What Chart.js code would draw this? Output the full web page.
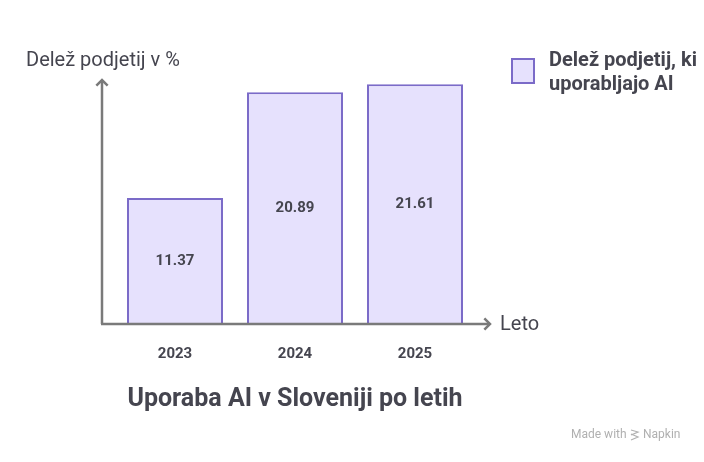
<!DOCTYPE html>
<html>
<head>
<meta charset="utf-8">
<script src="https://cdn.jsdelivr.net/npm/chart.js@4/dist/chart.umd.min.js"></script>
<style>
  html, body { margin: 0; padding: 0; background: #fff; }
  #wrap { width: 704px; height: 462px; position: relative; }
</style>
</head>
<body>
<div id="wrap"><canvas id="chart"></canvas></div>
<script>
const years = ['2023', '2024', '2025'];
const shares = [11.37, 20.89, 21.61];
const seriesLabel = 'Delež podjetij, ki uporabljajo AI';
const yTitle = 'Delež podjetij v %';
const xTitle = 'Leto';
const chartTitle = 'Uporaba AI v Sloveniji po letih';

const FONT = 'Roboto, "Noto Sans", sans-serif';
const TEXT = '#45454f';
const AXIS = '#7a7a7a';

function arrowLine(ctx, x1, y1, x2, y2) {
  ctx.beginPath();
  ctx.moveTo(x1, y1);
  ctx.lineTo(x2, y2);
  ctx.stroke();
  const a = Math.atan2(y2 - y1, x2 - x1);
  const s = 8;
  ctx.beginPath();
  ctx.moveTo(x2 - s * Math.cos(a - Math.PI / 4), y2 - s * Math.sin(a - Math.PI / 4));
  ctx.lineTo(x2, y2);
  ctx.lineTo(x2 - s * Math.cos(a + Math.PI / 4), y2 - s * Math.sin(a + Math.PI / 4));
  ctx.stroke();
}

const decor = {
  id: 'decor',
  afterDatasetsDraw(chart) {
    const { ctx, chartArea, scales } = chart;
    const base = scales.y.getPixelForValue(0);
    ctx.save();

    // axes with arrows
    ctx.strokeStyle = AXIS;
    ctx.lineWidth = 2.5;
    arrowLine(ctx, 102, base, 102, chartArea.top);
    arrowLine(ctx, 101, base, 490, base);

    // value labels inside bars
    const meta = chart.getDatasetMeta(0);
    ctx.fillStyle = TEXT;
    ctx.font = `bold 15px ${FONT}`;
    ctx.textAlign = 'center';
    ctx.textBaseline = 'middle';
    meta.data.forEach((bar, i) => {
      ctx.fillText(shares[i].toFixed(2), bar.x, (bar.y + bar.base) / 2);
    });

    // year ticks
    ctx.font = `bold 15px ${FONT}`;
    years.forEach((y, i) => {
      ctx.fillText(y, scales.x.getPixelForTick(i), base + 30);
    });

    // axis titles
    ctx.font = `20px ${FONT}`;
    ctx.textAlign = 'left';
    ctx.fillText(yTitle, 26, 61);
    ctx.fillText(xTitle, 500, base + 1);

    // chart title
    ctx.font = `bold 25px ${FONT}`;
    ctx.textAlign = 'center';
    ctx.fillText(chartTitle, 295, 400);

    // legend
    ctx.fillStyle = '#e6e1fd';
    ctx.fillRect(512, 59, 22, 24);
    ctx.strokeStyle = '#7b6bc8';
    ctx.lineWidth = 2;
    ctx.strokeRect(512, 59, 22, 24);
    ctx.fillStyle = TEXT;
    ctx.font = `bold 20px ${FONT}`;
    ctx.textAlign = 'left';
    ctx.fillText('Delež podjetij, ki', 549, 61);
    ctx.fillText('uporabljajo AI', 549, 85);

    // watermark
    ctx.fillStyle = '#b0b0b0';
    ctx.font = `12px ${FONT}`;
    ctx.fillText('Made with', 571, 435);
    ctx.fillText('Napkin', 643, 435);
    ctx.strokeStyle = '#b0b0b0';
    ctx.lineWidth = 1.2;
    ctx.beginPath();
    ctx.moveTo(631, 430); ctx.lineTo(638, 432); ctx.lineTo(631, 435);
    ctx.moveTo(631, 434); ctx.lineTo(638, 437); ctx.lineTo(631, 440);
    ctx.stroke();

    ctx.restore();
  }
};

new Chart(document.getElementById('chart'), {
  type: 'bar',
  data: {
    labels: years,
    datasets: [{
      label: seriesLabel,
      data: shares,
      backgroundColor: '#e6e1fd',
      borderColor: '#7b6bc8',
      borderWidth: { top: 2, left: 2, right: 2, bottom: 0 },
      borderSkipped: 'bottom',
      barPercentage: 0.8,
      categoryPercentage: 1.0
    }]
  },
  options: {
    responsive: true,
    maintainAspectRatio: false,
    animation: false,
    layout: { padding: { left: 115, right: 229, top: 80, bottom: 138 } },
    plugins: {
      legend: { display: false },
      tooltip: { enabled: false }
    },
    scales: {
      x: { display: false, offset: true },
      y: { display: false, min: 0, max: 22 }
    }
  },
  plugins: [decor]
});
</script>
</body>
</html>
